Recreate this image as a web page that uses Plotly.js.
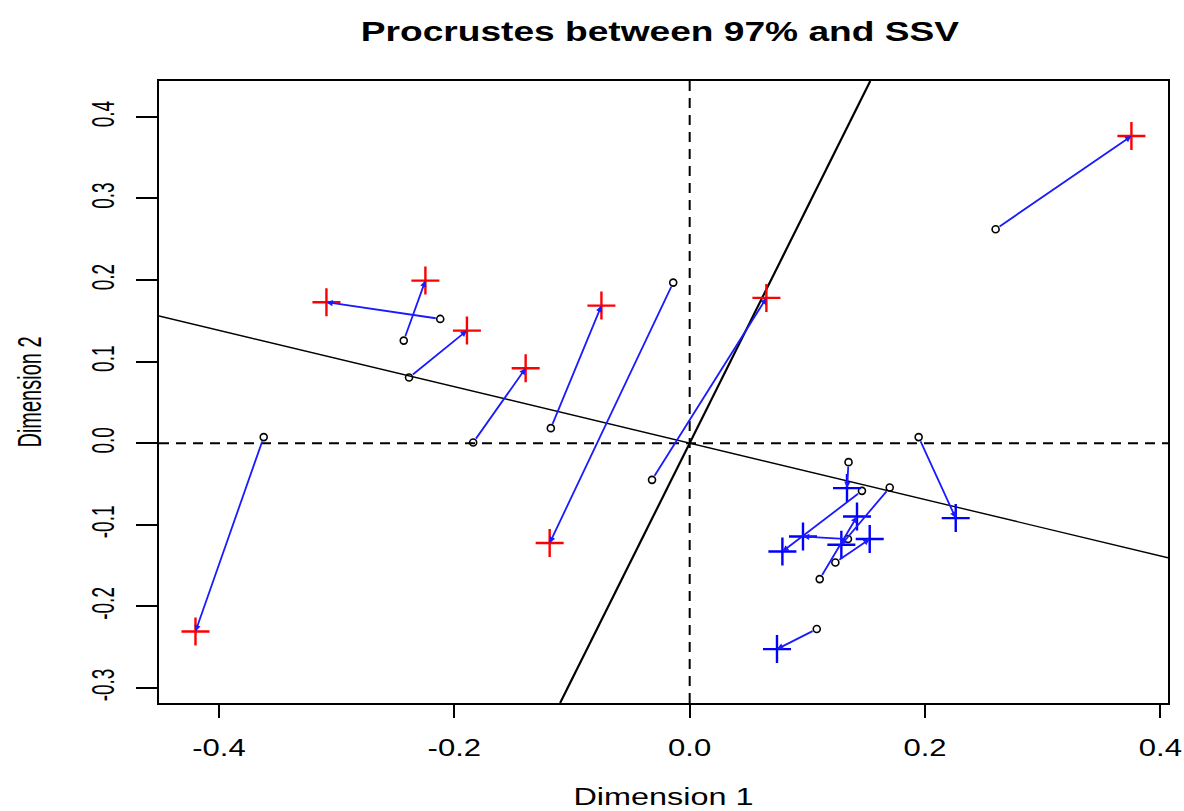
<!DOCTYPE html>
<html>
<head>
<meta charset="utf-8">
<script src="https://cdn.plot.ly/plotly-3.0.1.min.js"></script>
<style>
  html, body { margin: 0; padding: 0; background: #ffffff; }
  #chart { width: 1184px; height: 811px; }
</style>
</head>
<body>
<div id="chart"></div>
<script>
// Target configuration (open circles) and rotated configuration (crosses)
const targetX = [-0.362, -0.184, -0.2385, -0.243, -0.212, -0.118, -0.014, -0.032, 0.260,
                 0.1946, 0.135, 0.1464, 0.170, 0.1345, 0.1238, 0.1105, 0.108];
const targetY = [0.0074, 0.0007, 0.0804, 0.1257, 0.1523, 0.0184, 0.1968, -0.045, 0.2623,
                 0.0074, -0.0233, -0.0585, -0.0544, -0.1176, -0.1463, -0.1667, -0.2279];
const rotX = [-0.420, -0.1394, -0.1893, -0.2246, -0.3087, -0.075, -0.119, 0.0652, 0.3754,
              0.2261, 0.1337, 0.0788, 0.1289, 0.0963, 0.153, 0.1422, 0.0742];
const rotY = [-0.2309, 0.0919, 0.138, 0.1993, 0.1728, 0.1686, -0.1225, 0.1781, 0.3766,
              -0.0919, -0.0551, -0.1328, -0.1246, -0.1145, -0.1176, -0.090, -0.2525];
const group = ['A','A','A','A','A','A','A','A','A','B','B','B','B','B','B','B','B'];
const groupColors = { A: '#ff0000', B: '#0000ff' };

// Rotation axes through the origin
const axisSlopes = [-0.3458, 2.893];
const axisWidths = [1.4, 2.2];

const xTicks = [-0.4, -0.2, 0.0, 0.2, 0.4];
const xTickText = ['-0.4', '-0.2', '0.0', '0.2', '0.4'];
const yTicks = [-0.3, -0.2, -0.1, 0.0, 0.1, 0.2, 0.3, 0.4];
const yTickText = ['-0.3', '-0.2', '-0.1', '0.0', '0.1', '0.2', '0.3', '0.4'];

const xRange = [-0.451, 0.4065];
const yRange = [-0.3186, 0.444];

const FONT = 'Liberation Sans, Arial, sans-serif';
// glyphs are drawn wider than tall; rotated labels more so
const STRETCH_FLAT = 1.35;
const STRETCH_ROTATED = 1.65;

const traces = [];

// axis lines clipped to the plotting region
axisSlopes.forEach((b, i) => {
  let x0 = xRange[0], x1 = xRange[1];
  const lo = Math.min(yRange[0] / b, yRange[1] / b);
  const hi = Math.max(yRange[0] / b, yRange[1] / b);
  x0 = Math.max(x0, lo); x1 = Math.min(x1, hi);
  traces.push({
    x: [x0, x1], y: [b * x0, b * x1], mode: 'lines', type: 'scatter',
    line: { color: '#000000', width: axisWidths[i] }, hoverinfo: 'skip', showlegend: false
  });
});

// open circles for the target points
traces.push({
  x: targetX, y: targetY, mode: 'markers', type: 'scatter', showlegend: false,
  marker: { symbol: 'circle-open', size: 7, color: '#000000', line: { width: 1.6, color: '#000000' } }
});

// crosses for the rotated points, one trace per colour group
Object.keys(groupColors).forEach(g => {
  const xs = [], ys = [];
  group.forEach((gg, i) => { if (gg === g) { xs.push(rotX[i]); ys.push(rotY[i]); } });
  traces.push({
    x: xs, y: ys, mode: 'markers', type: 'scatter', showlegend: false,
    marker: { symbol: 'cross-thin-open', size: 20, color: groupColors[g],
              line: { width: 2.4, color: groupColors[g] } }
  });
});

// arrows from each target point to its rotated counterpart
const annotations = targetX.map((tx, i) => ({
  x: rotX[i], y: rotY[i], ax: tx, ay: targetY[i],
  xref: 'x', yref: 'y', axref: 'x', ayref: 'y',
  text: '', showarrow: true, arrowhead: 2, arrowsize: 0.7, arrowwidth: 1.8,
  arrowcolor: '#1a1aff', standoff: 0, startstandoff: 3
}));

const shapes = [
  { type: 'line', xref: 'x', yref: 'paper', x0: 0, x1: 0, y0: 0, y1: 1,
    line: { color: '#000000', width: 2, dash: '10px,7px' } },
  { type: 'line', xref: 'paper', yref: 'y', x0: 0, x1: 1, y0: 0, y1: 0,
    line: { color: '#000000', width: 2, dash: '10px,7px' } }
];

const layout = {
  width: 1184, height: 811,
  margin: { l: 159, r: 16, t: 81, b: 108, pad: 0 },
  paper_bgcolor: '#ffffff', plot_bgcolor: '#ffffff',
  font: { family: FONT, color: '#000000' },
  title: {
    text: '<b>Procrustes between 97% and SSV</b>',
    font: { family: FONT, size: 27.5, color: '#000000' },
    x: (660 - 159) / (1168 - 159), xref: 'paper', xanchor: 'center',
    y: (811 - 31) / 811, yref: 'container', yanchor: 'middle'
  },
  xaxis: {
    range: xRange, tickvals: xTicks, ticktext: xTickText,
    ticks: 'outside', ticklen: 13, tickwidth: 2, tickcolor: '#000000',
    showline: true, mirror: true, linecolor: '#000000', linewidth: 2,
    showgrid: false, zeroline: false, ticklabelstandoff: 10,
    tickfont: { family: FONT, size: 23 },
    title: { text: 'Dimension 1', font: { family: FONT, size: 24 }, standoff: 29 }
  },
  yaxis: {
    range: yRange, tickvals: yTicks, ticktext: yTickText, tickangle: -90,
    ticks: 'outside', ticklen: 21, tickwidth: 2, tickcolor: '#000000',
    showline: true, mirror: true, linecolor: '#000000', linewidth: 2,
    showgrid: false, zeroline: false, ticklabelstandoff: 19,
    tickfont: { family: FONT, size: 19 },
    title: { text: 'Dimension 2', font: { family: FONT, size: 20 }, standoff: 50 }
  },
  shapes: shapes,
  annotations: annotations,
  showlegend: false
};

// widen a text element horizontally about its own centre
function widenText(el, s) {
  const svg = el.ownerSVGElement;
  if (!svg || !el.parentNode.getScreenCTM) return;
  const r = el.getBoundingClientRect();
  const pt = svg.createSVGPoint();
  pt.x = r.left + r.width / 2;
  pt.y = r.top + r.height / 2;
  const c = pt.matrixTransform(el.parentNode.getScreenCTM().inverse());
  const old = el.getAttribute('transform') || '';
  el.setAttribute('transform',
    'translate(' + c.x + ',' + c.y + ') scale(' + s + ',1) translate(' + (-c.x) + ',' + (-c.y) + ') ' + old);
}

Plotly.newPlot('chart', traces, layout, { displayModeBar: false, staticPlot: true }).then(gd => {
  gd.querySelectorAll('.gtitle, .xtick text, .g-xtitle text')
    .forEach(el => widenText(el, STRETCH_FLAT));
  gd.querySelectorAll('.ytick text, .g-ytitle text')
    .forEach(el => widenText(el, STRETCH_ROTATED));
});
</script>
</body>
</html>
